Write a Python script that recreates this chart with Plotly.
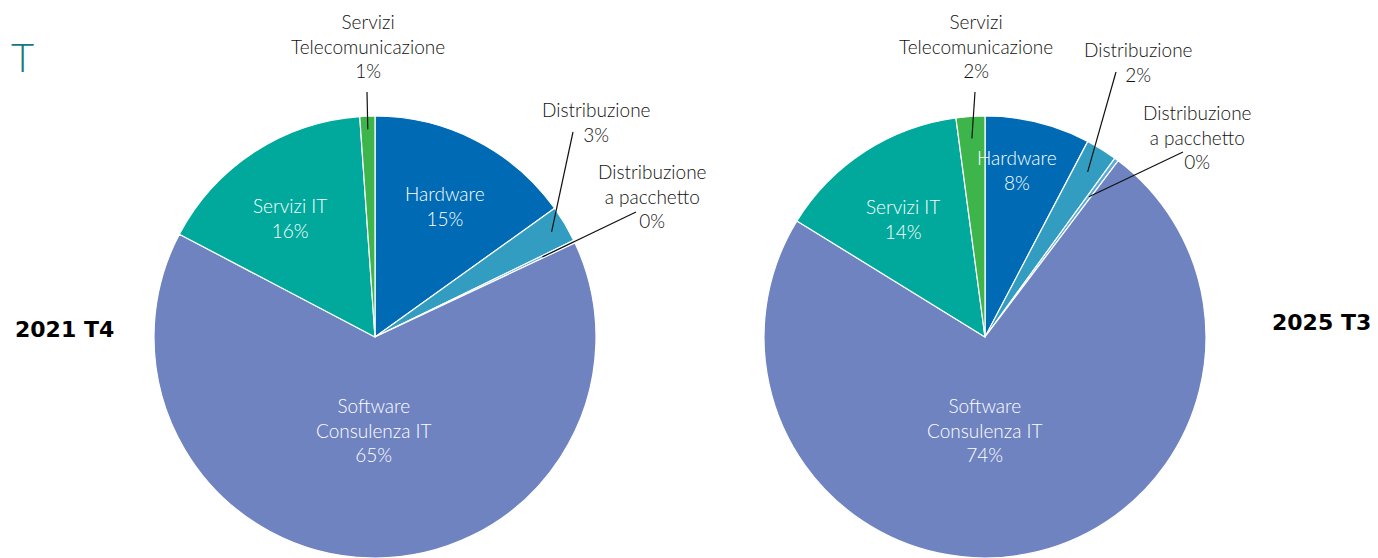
import math
import plotly.graph_objects as go

# ---------------- data ----------------
categories = ["Hardware", "Distribuzione", "Distribuzione a pacchetto",
              "Software Consulenza IT", "Servizi IT", "Servizi Telecomunicazione"]
display_labels = ["Hardware", "Distribuzione", "Distribuzione<br>a pacchetto",
                  "Software<br>Consulenza IT", "Servizi IT", "Servizi<br>Telecomunicazione"]
values_2021_t4 = [15.1, 2.7, 0.2, 64.7, 16.2, 1.1]
values_2025_t3 = [7.7, 2.3, 0.3, 73.5, 14.1, 2.1]
period_labels = ["2021 T4", "2025 T3"]

colors = ["#006bb4", "#339dc1", "#5aa9d6", "#6f83c1", "#00a99b", "#3db54a"]

# ---------------- layout constants ----------------
OFF = 8                      # page body margin
W, H = 1378 - OFF, 558 - OFF
R = 221
MB = 0
MT = H - MB - 2 * R
PH = H - MT - MB
centers_x = [375, 985]       # in window pixels
cy = OFF + MT + R            # in window pixels

def px(x):
    return (x - OFF) / W

def py(y):
    return (H - (y - OFF)) / PH

FONT = "Lato"
LBL_SIZE = 19

fig = go.Figure()
annotations = []
shapes = []

# inside labels: index -> (radius fraction, angle offset)
inside_cfg = [
    {0: (0.67, 1.0), 4: (0.66, -2.5), 3: (0.42, -0.75)},
    {0: (0.77, -3.0), 4: (0.65, -1.8), 3: (0.42, 10.5)},
]
# outside labels: index -> (label center, leader start, radius fraction of end)
outside_cfg = [
    {5: ((368, 46), (367, 92), 0.94),
     1: ((596, 122), (573, 132), 0.93),
     2: ((652, 196), (636, 212), 0.84)},
    {5: ((976, 46), (975, 92), 0.90),
     1: ((1138, 62), (1116, 72), 0.88),
     2: ((1197, 137), (1183, 152), 0.79)},
]

for k, vals in enumerate([values_2021_t4, values_2025_t3]):
    cx = centers_x[k]
    fig.add_trace(go.Pie(
        labels=categories, values=vals, sort=False, direction="clockwise",
        rotation=0, marker=dict(colors=colors, line=dict(color="white", width=1.2)),
        textinfo="none", hoverinfo="label+percent", showlegend=False,
        domain=dict(x=[px(cx - R), px(cx + R)], y=[0, 1]),
    ))
    total = sum(vals)
    cum = 0
    mids = []
    for v in vals:
        a0 = cum / total * 360
        cum += v
        a1 = cum / total * 360
        mids.append((a0 + a1) / 2)
    pct = [round(v / total * 100) for v in vals]

    def pos(angle, rf):
        t = math.radians(angle)
        return cx + rf * R * math.sin(t), cy - rf * R * math.cos(t)

    for i, (rf, off) in inside_cfg[k].items():
        x, y = pos(mids[i] + off, rf)
        annotations.append(dict(
            x=px(x), y=py(y), xref="paper", yref="paper", showarrow=False,
            text=f"{display_labels[i]}<br>{pct[i]}%",
            font=dict(family=FONT, size=LBL_SIZE, color="white", weight=300),
            xanchor="center", yanchor="middle", align="center"))

    for i, (lc, ls, rf) in outside_cfg[k].items():
        annotations.append(dict(
            x=px(lc[0]), y=py(lc[1]), xref="paper", yref="paper", showarrow=False,
            text=f"{display_labels[i]}<br>{pct[i]}%",
            font=dict(family=FONT, size=LBL_SIZE, color="#111111", weight=300),
            xanchor="center", yanchor="middle", align="center"))
        ex, ey = pos(mids[i], rf)
        shapes.append(dict(type="line", xref="paper", yref="paper",
                           x0=px(ls[0]), y0=py(ls[1]), x1=px(ex), y1=py(ey),
                           line=dict(color="#111111", width=1.2)))

# period labels
annotations.append(dict(x=px(13), y=py(329), xref="paper", yref="paper",
                        showarrow=False, text=f"<b>{period_labels[0]}</b>",
                        font=dict(family="DejaVu Sans", size=22, color="black"),
                        xanchor="left", yanchor="middle"))
annotations.append(dict(x=px(1373), y=py(322), xref="paper", yref="paper",
                        showarrow=False, text=f"<b>{period_labels[1]}</b>",
                        font=dict(family="DejaVu Sans", size=22, color="black"),
                        xanchor="right", yanchor="middle"))
# title remnant at the left edge
annotations.append(dict(x=px(9), y=py(57), xref="paper", yref="paper",
                        showarrow=False, text="T",
                        font=dict(family=FONT, size=40, color="#137a80", weight=300),
                        xanchor="left", yanchor="middle"))

fig.update_layout(
    width=W, height=H,
    margin=dict(l=0, r=0, t=MT, b=MB, pad=0),
    paper_bgcolor="white", plot_bgcolor="white",
    annotations=annotations, shapes=shapes,
)

fig.write_html("out.html")
